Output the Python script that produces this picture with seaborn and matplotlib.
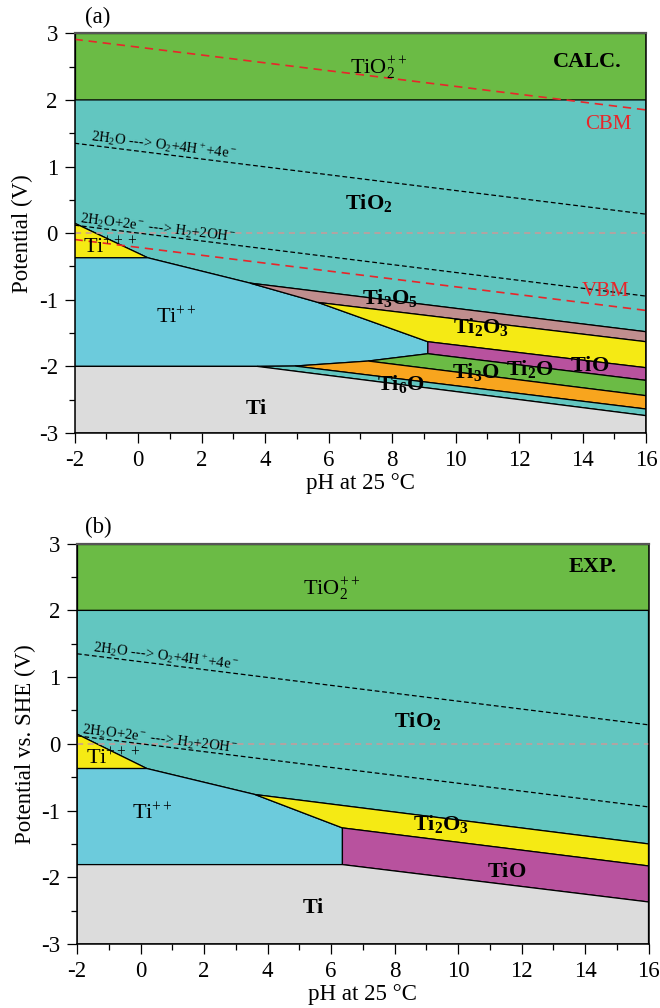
import matplotlib
matplotlib.use("Agg")
import matplotlib.pyplot as plt
from matplotlib.ticker import MultipleLocator
import seaborn as sns
import pandas as pd

sns.set_theme(style="ticks")
plt.rcParams["font.family"] = ["Liberation Serif", "DejaVu Serif"]
plt.rcParams["mathtext.fontset"] = "custom"
plt.rcParams["mathtext.rm"] = "Liberation Serif"
plt.rcParams["mathtext.it"] = "Liberation Serif:italic"
plt.rcParams["mathtext.bf"] = "Liberation Serif:bold"
plt.rcParams["axes.unicode_minus"] = False
plt.rcParams["text.color"] = "black"
plt.rcParams["axes.labelcolor"] = "black"
plt.rcParams["xtick.color"] = "black"
plt.rcParams["ytick.color"] = "black"

# ---------------- data ----------------
ph_range = [-2, 16]
e_range = [-3, 3]
x_ticks = [-2, 0, 2, 4, 6, 8, 10, 12, 14, 16]
y_ticks = [-3, -2, -1, 0, 1, 2, 3]

# water lines and band edges (values at pH -2 and pH 16)
o2_line = [1.35, 0.285]
h2_line = [0.12, -0.945]
cbm_line = [2.91, 1.85]
vbm_line = [-0.095, -1.16]

# colours of phases
phase_colors = {
    "TiO2++": "#6bbb45", "TiO2": "#62c6c0", "Ti+++": "#f5ea14", "Ti++": "#6ccbdc",
    "Ti3O5": "#c08e8e", "Ti2O3": "#f5ea14", "TiO": "#b8529e", "Ti2O": "#6bbb45",
    "Ti3O": "#f8a51e", "Ti6O": "#62c6c0", "Ti": "#dcdcdc",
}

# panel (a) calculated domains (pH, E) vertices
calc_domains = {
    "TiO2++": [(-2, 2.0), (16, 2.0), (16, 3.0), (-2, 3.0)],
    "TiO2": [(-2, 2.0), (16, 2.0), (16, -1.48), (3.53, -0.75), (0.31, -0.37), (-2, 0.15)],
    "Ti+++": [(-2, 0.15), (0.31, -0.37), (-2, -0.37)],
    "Ti++": [(-2, -0.37), (0.31, -0.37), (3.53, -0.75), (5.67, -1.04), (9.13, -1.63),
             (9.13, -1.81), (7.25, -1.92), (4.94, -1.995), (3.75, -2.0), (-2, -2.0)],
    "Ti3O5": [(3.53, -0.75), (16, -1.48), (16, -1.63), (5.67, -1.04)],
    "Ti2O3": [(5.67, -1.04), (16, -1.63), (16, -2.02), (9.13, -1.63)],
    "TiO": [(9.13, -1.63), (16, -2.02), (16, -2.21), (9.13, -1.81)],
    "Ti2O": [(9.13, -1.81), (16, -2.21), (16, -2.44), (7.25, -1.92)],
    "Ti3O": [(7.25, -1.92), (16, -2.44), (16, -2.64), (4.94, -1.995)],
    "Ti6O": [(4.94, -1.995), (16, -2.64), (16, -2.74), (3.75, -2.0)],
    "Ti": [(-2, -2.0), (3.75, -2.0), (16, -2.74), (16, -3.0), (-2, -3.0)],
}

# panel (b) experimental domains
exp_domains = {
    "TiO2++": [(-2, 2.0), (16, 2.0), (16, 3.0), (-2, 3.0)],
    "TiO2": [(-2, 2.0), (16, 2.0), (16, -1.50), (3.61, -0.76), (0.2, -0.37), (-2, 0.146)],
    "Ti+++": [(-2, 0.146), (0.2, -0.37), (-2, -0.37)],
    "Ti++": [(-2, -0.37), (0.2, -0.37), (3.61, -0.76), (6.36, -1.26), (6.36, -1.81), (-2, -1.81)],
    "Ti2O3": [(3.61, -0.76), (16, -1.50), (16, -1.83), (6.36, -1.26)],
    "TiO": [(6.36, -1.26), (16, -1.83), (16, -2.37), (6.36, -1.81)],
    "Ti": [(-2, -1.81), (6.36, -1.81), (16, -2.37), (16, -3.0), (-2, -3.0)],
}

# labels: (text, pH, E, bold)
calc_labels = [
    (r"$\mathrm{TiO_2^{++}}$", 6.68, 2.39, False),
    (r"$\mathbf{TiO_2}$", 6.52, 0.36, False),
    (r"$\mathrm{Ti^{+++}}$", -1.72, -0.30, False),
    (r"$\mathrm{Ti^{++}}$", 0.57, -1.36, False),
    (r"$\mathbf{Ti_3O_5}$", 7.05, -1.07, False),
    (r"$\mathbf{Ti_2O_3}$", 9.93, -1.50, False),
    (r"$\mathbf{TiO}$", 13.6, -2.07, False),
    (r"$\mathbf{Ti_2O}$", 11.6, -2.13, False),
    (r"$\mathbf{Ti_3O}$", 9.88, -2.18, False),
    (r"$\mathbf{Ti_6O}$", 7.52, -2.36, False),
    (r"$\mathbf{Ti}$", 3.37, -2.72, False),
    ("CALC.", 13.07, 2.50, True),
]
exp_labels = [
    (r"$\mathrm{TiO_2^{++}}$", 5.13, 2.24, False),
    (r"$\mathbf{TiO_2}$", 8.0, 0.25, False),
    (r"$\mathrm{Ti^{+++}}$", -1.71, -0.31, False),
    (r"$\mathrm{Ti^{++}}$", -0.28, -1.14, False),
    (r"$\mathbf{Ti_2O_3}$", 8.59, -1.29, False),
    (r"$\mathbf{TiO}$", 10.9, -1.99, False),
    (r"$\mathbf{Ti}$", 5.08, -2.54, False),
    ("EXP.", 13.47, 2.58, True),
]
o2_text = r"2H$_2$O ---> O$_2$+4H$^+$+4e$^-$"
h2_text = r"2H$_2$O+2e$^-$ ---> H$_2$+2OH$^-$"

# ---------------- figure ----------------
fig = plt.figure(figsize=(6.6, 10.08), dpi=100)
ax_a = fig.add_axes([74.5 / 660, (1008 - 433) / 1008, 571.5 / 660, 399.7 / 1008])
ax_b = fig.add_axes([77 / 660, 64 / 1008, 571.5 / 660, 400.3 / 1008])


def draw_panel(ax, domains, labels, bands, ylabel):
    for name, verts in domains.items():
        xs = [v[0] for v in verts]
        ys = [v[1] for v in verts]
        ax.fill(xs, ys, facecolor=phase_colors[name], edgecolor="black", linewidth=0.9, zorder=1)

    # E = 0 reference
    df0 = pd.DataFrame({"pH": ph_range, "E": [0, 0]})
    sns.lineplot(data=df0, x="pH", y="E", ax=ax, color="#c89a9a", linewidth=1.1, zorder=3)
    ax.lines[-1].set_dashes([4, 3])

    for vals in (o2_line, h2_line):
        df = pd.DataFrame({"pH": ph_range, "E": vals})
        sns.lineplot(data=df, x="pH", y="E", ax=ax, color="black", linewidth=0.9, zorder=3)
        ax.lines[-1].set_dashes([3.8, 2.2])
    if bands:
        for vals in (cbm_line, vbm_line):
            df = pd.DataFrame({"pH": ph_range, "E": vals})
            sns.lineplot(data=df, x="pH", y="E", ax=ax, color="#e8262a", linewidth=1.2, zorder=3)
            ax.lines[-1].set_dashes([5, 3.5])
        ax.text(14.08, 1.56, "CBM", color="#e8262a", fontsize=15, zorder=5)
        ax.text(13.97, -0.945, "VBM", color="#e8262a", fontsize=15, zorder=5)

    for txt, x, y, bold in labels:
        ax.text(x, y, txt, fontsize=16, fontweight="bold" if bold else "normal",
                color="black", ha="left", va="baseline", zorder=5)

    ax.text(-1.5, 1.385, o2_text, fontsize=10.5, rotation=-7.0, rotation_mode="anchor",
            color="black", ha="left", va="baseline", zorder=5)
    ax.text(-1.85, 0.15, h2_text, fontsize=10.5, rotation=-7.0, rotation_mode="anchor",
            color="black", ha="left", va="baseline", zorder=5)

    ax.set_xlim(*ph_range)
    ax.set_ylim(*e_range)
    ax.set_xticks(x_ticks)
    ax.set_yticks(y_ticks)
    ax.xaxis.set_minor_locator(MultipleLocator(1))
    ax.yaxis.set_minor_locator(MultipleLocator(0.5))
    ax.tick_params(which="major", direction="out", length=7, width=0.9, labelsize=16.5,
                   colors="black", pad=5)
    ax.tick_params(which="minor", direction="out", length=4, width=0.9, colors="black")
    ax.set_xlabel("pH at 25 °C", fontsize=16.5, labelpad=2, color="black")
    ax.set_ylabel(ylabel, fontsize=16.5, labelpad=4, color="black")
    for side, sp in ax.spines.items():
        sp.set_visible(True)
        sp.set_color("black")
        sp.set_linewidth(1.1)
        sp.set_zorder(6)
    ax.spines["top"].set_color("#555555")
    ax.spines["top"].set_linewidth(1.6)


draw_panel(ax_a, calc_domains, calc_labels, True, "Potential (V)")
draw_panel(ax_b, exp_domains, exp_labels, False, "Potential vs. SHE (V)")

fig.text(85 / 660, 1 - 23 / 1008, "(a)", fontsize=16.5, color="black", ha="left", va="baseline")
fig.text(85 / 660, 1 - 533 / 1008, "(b)", fontsize=16.5, color="black", ha="left", va="baseline")

fig.savefig("out.png", dpi=100)
